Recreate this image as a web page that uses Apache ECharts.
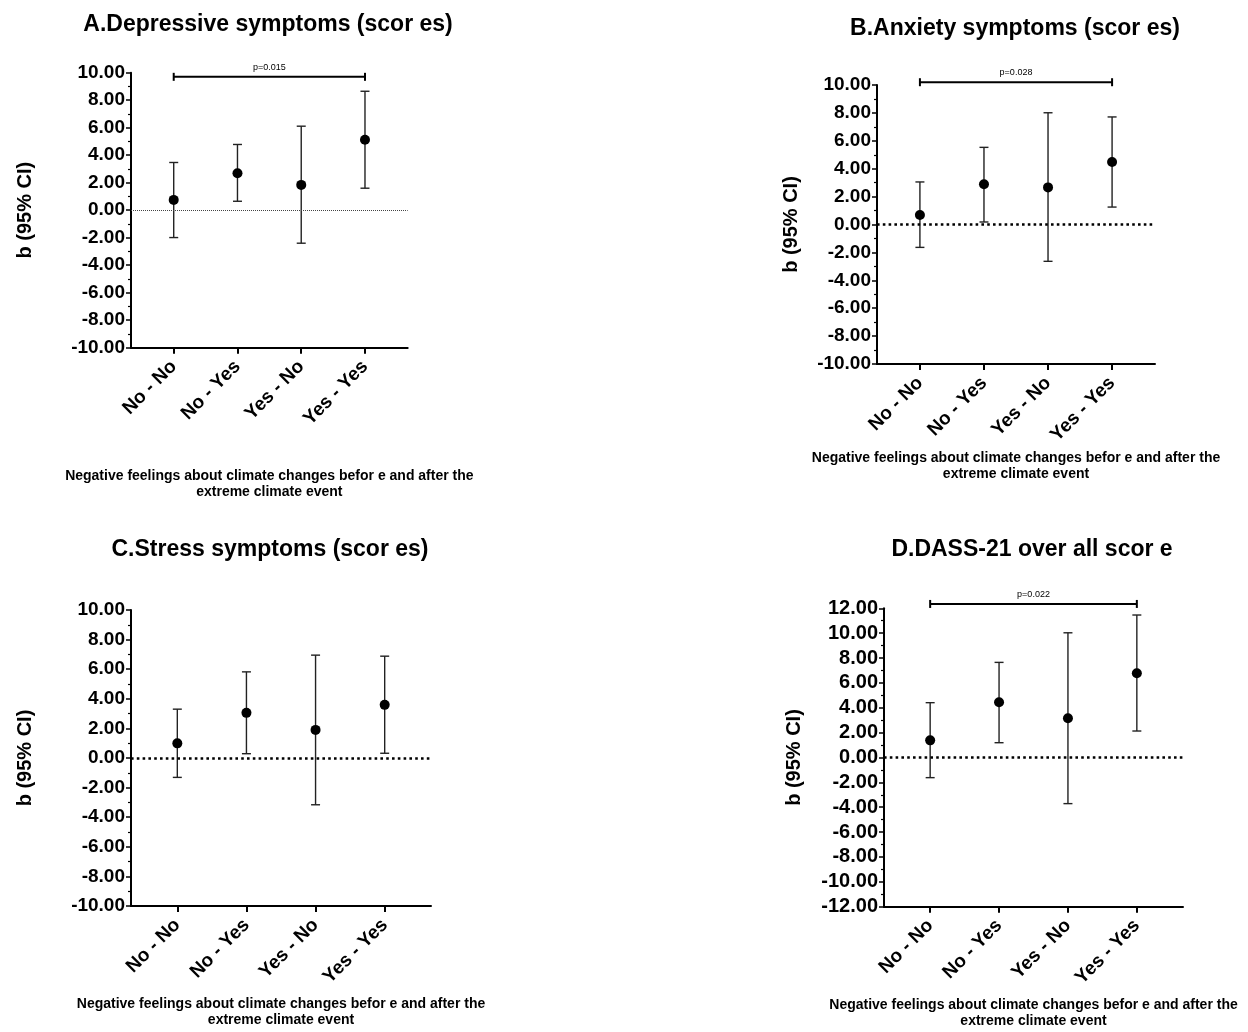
<!DOCTYPE html>
<html>
<head>
<meta charset="utf-8">
<script src="https://cdn.jsdelivr.net/npm/echarts@6/dist/echarts.min.js"></script>
<style>
html,body{margin:0;padding:0;background:#fff;}
#chart{width:1248px;height:1032px;}
</style>
</head>
<body>
<div id="chart"></div>
<script>
const categories = ['No - No', 'No - Yes', 'Yes - No', 'Yes - Yes'];

const titles = ['A.Depressive symptoms (scor es)', 'B.Anxiety symptoms (scor es)', 'C.Stress symptoms (scor es)', 'D.DASS-21 over all scor e'];
const yAxisTitle = 'b (95% CI)';
const xAxisTitle = 'Negative feelings about climate changes befor e and after the\nextreme climate event';

const estA = [0.75, 2.69, 1.84, 5.12];
const lowA = [-1.99, 0.65, -2.40, 1.60];
const highA = [3.47, 4.78, 6.11, 8.65];

const estB = [0.68, 2.88, 2.66, 4.48];
const lowB = [-1.64, 0.18, -2.64, 1.25];
const highB = [3.05, 5.53, 8.01, 7.71];

const estC = [0.99, 3.05, 1.90, 3.59];
const lowC = [-1.31, 0.29, -3.16, 0.32];
const highC = [3.30, 5.82, 6.95, 6.88];

const estD = [1.38, 4.44, 3.15, 6.77];
const lowD = [-1.62, 1.19, -3.71, 2.13];
const highD = [4.41, 7.65, 10.03, 11.46];

const yMin = [-10, -10, -10, -12];
const yMax = [10, 10, 10, 12];

const pBarY = [9.7, 10.2, null, 12.35];
const pLabels = ['p=0.015', 'p=0.028', null, 'p=0.022'];

const FONT = "'Liberation Sans', Arial, sans-serif";

const panels = [
  {est: estA, low: lowA, high: highA, grid: {left: 131, top: 72.7, width: 276.7, height: 275}, nameGapY: 96, nameGapX: 120, dot: 'thin', title: [268, 25], labelSize: 19},
  {est: estB, low: lowB, high: highB, grid: {left: 877, top: 85, width: 278, height: 279}, nameGapY: 76, nameGapX: 86, dot: 'thick', title: [1015, 29], labelSize: 19},
  {est: estC, low: lowC, high: highC, grid: {left: 131, top: 610, width: 300, height: 296}, nameGapY: 96, nameGapX: 90, dot: 'thick', title: [270, 550], labelSize: 19},
  {est: estD, low: lowD, high: highD, grid: {left: 884, top: 608.3, width: 299, height: 298.4}, nameGapY: 80, nameGapX: 90, dot: 'thick', title: [1032, 550], labelSize: 20}
];

const grids = [], xAxes = [], yAxes = [], series = [], graphics = [];

panels.forEach((p, k) => {
  grids.push(Object.assign({containLabel: false}, p.grid));
  xAxes.push({
    type: 'value', gridIndex: k, min: -0.67, max: 3.67,
    splitLine: {show: false},
    axisLine: {show: true, onZero: false, lineStyle: {color: '#000', width: 2}},
    axisTick: {show: true, customValues: [0, 1, 2, 3], length: 6, lineStyle: {color: '#000', width: 2}},
    axisLabel: {
      show: true, customValues: [0, 1, 2, 3], rotate: 45, margin: 16,
      formatter: v => categories[Math.round(v)],
      fontFamily: FONT, fontWeight: 'bold', fontSize: 19, color: '#000'
    },
    name: xAxisTitle, nameLocation: 'middle', nameGap: p.nameGapX,
    nameTextStyle: {fontFamily: FONT, fontWeight: 'bold', fontSize: 14, color: '#000', lineHeight: 16}
  });
  yAxes.push({
    type: 'value', gridIndex: k, min: yMin[k], max: yMax[k], interval: 2,
    splitLine: {show: false},
    axisLine: {show: true, onZero: false, lineStyle: {color: '#000', width: 2}},
    axisTick: {show: true, length: 5, lineStyle: {color: '#000', width: 1.5}},
    minorTick: {show: true, splitNumber: 2, length: 3, lineStyle: {color: '#000', width: 1.2}},
    axisLabel: {
      formatter: v => v.toFixed(2), margin: 6,
      fontFamily: FONT, fontWeight: 'bold', fontSize: p.labelSize, color: '#000'
    },
    name: yAxisTitle, nameLocation: 'middle', nameGap: p.nameGapY, nameRotate: 90,
    nameTextStyle: {fontFamily: FONT, fontWeight: 'bold', fontSize: 20, color: '#000'}
  });

  // error bars
  series.push({
    type: 'custom', xAxisIndex: k, yAxisIndex: k, silent: true,
    data: categories.map((c, i) => [i, p.low[i], p.high[i]]),
    renderItem: (params, api) => {
      const x = api.value(0);
      const a = api.coord([x, api.value(1)]);
      const b = api.coord([x, api.value(2)]);
      const st = {stroke: '#222', lineWidth: 1.4};
      const cw = 4.5;
      return {type: 'group', children: [
        {type: 'line', shape: {x1: a[0], y1: a[1], x2: b[0], y2: b[1]}, style: st},
        {type: 'line', shape: {x1: a[0] - cw, y1: a[1], x2: a[0] + cw, y2: a[1]}, style: st},
        {type: 'line', shape: {x1: b[0] - cw, y1: b[1], x2: b[0] + cw, y2: b[1]}, style: st}
      ]};
    }
  });

  // points + zero line
  series.push({
    type: 'scatter', xAxisIndex: k, yAxisIndex: k, silent: true,
    symbol: 'circle', symbolSize: 10,
    itemStyle: {color: '#000', opacity: 1},
    data: p.est.map((v, i) => [i, v]),
    markLine: {
      silent: true, symbol: 'none', label: {show: false},
      lineStyle: p.dot === 'thin'
        ? {color: '#444', width: 1, type: [1, 1]}
        : {color: '#000', width: 2.6, type: [2.6, 3.2]},
      data: [{yAxis: 0}]
    },
    z: 5
  });

  // p bracket
  if (pBarY[k] !== null) {
    series.push({
      type: 'custom', xAxisIndex: k, yAxisIndex: k, silent: true, clip: false,
      data: [[0, 3, pBarY[k]]],
      renderItem: (params, api) => {
        const a = api.coord([api.value(0), api.value(2)]);
        const b = api.coord([api.value(1), api.value(2)]);
        const st = {stroke: '#000', lineWidth: 2};
        return {type: 'group', children: [
          {type: 'line', shape: {x1: a[0], y1: a[1], x2: b[0], y2: b[1]}, style: st},
          {type: 'line', shape: {x1: a[0], y1: a[1] - 4, x2: a[0], y2: a[1] + 4}, style: st},
          {type: 'line', shape: {x1: b[0], y1: b[1] - 4, x2: b[0], y2: b[1] + 4}, style: st},
          {type: 'text', style: {x: (a[0] + b[0]) / 2, y: a[1] - 5, text: pLabels[k], fill: '#000',
            font: '9px ' + FONT, textAlign: 'center', textVerticalAlign: 'bottom'}}
        ]};
      }
    });
  }

  graphics.push({
    type: 'text', x: p.title[0], y: p.title[1],
    style: {text: titles[k], fill: '#000', font: 'bold 23px ' + FONT, textAlign: 'center', textVerticalAlign: 'middle'}
  });
});

const chart = echarts.init(document.getElementById('chart'), null, {renderer: 'canvas'});
chart.setOption({
  animation: false,
  backgroundColor: '#fff',
  grid: grids,
  xAxis: xAxes,
  yAxis: yAxes,
  series: series,
  graphic: graphics
});
</script>
</body>
</html>
